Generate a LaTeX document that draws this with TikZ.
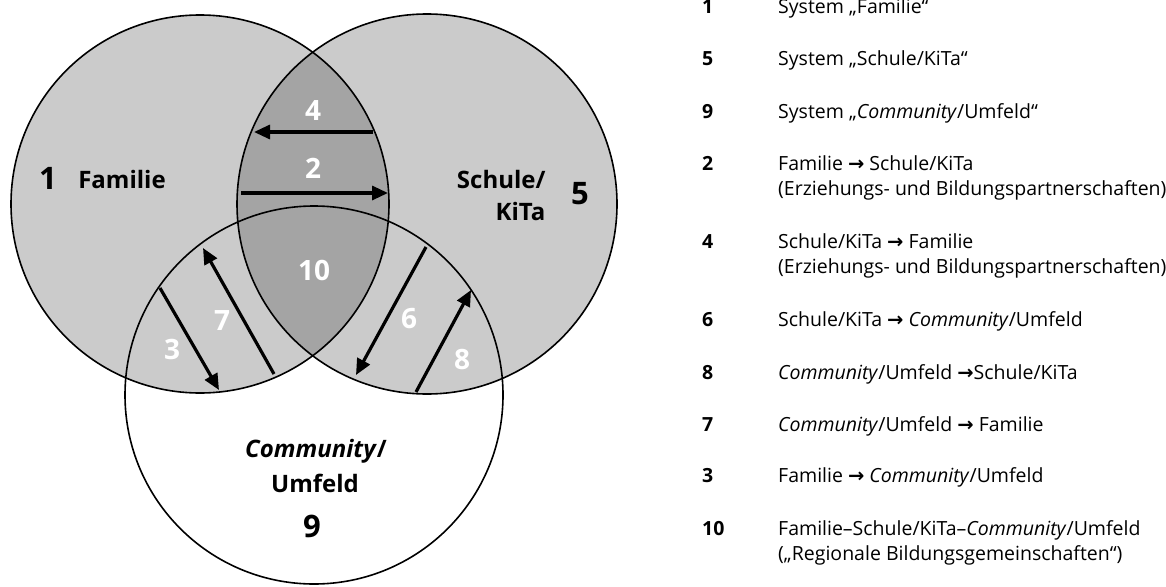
\documentclass[tikz,border=0pt]{standalone}
\usepackage{fontspec}
\setmainfont{Open Sans}
\newfontfamily\arrowfont{DejaVu Sans}
\usetikzlibrary{arrows.meta}
\newcommand\rarr{{\arrowfont\bfseries →}}
\definecolor{setfill}{HTML}{CBCBCB}
\definecolor{lensfill}{HTML}{A4A4A4}
\tikzset{
  ring/.style={draw=black,line width=1.6pt},
  flow/.style={line width=3.2pt,-{Triangle[length=16pt,width=14pt]}},
  setname/.style={font=\bfseries\fontsize{24}{30}\selectfont},
  setnum/.style={font=\bfseries\fontsize{31}{36}\selectfont},
  zonenum/.style={text=white,font=\bfseries\fontsize{28}{34}\selectfont},
  keynum/.style={anchor=base west,inner sep=0pt,font=\bfseries\fontsize{19.5}{25}\selectfont},
  keytext/.style={anchor=base west,inner sep=0pt,font=\fontsize{19.5}{25}\selectfont},
}
\begin{document}
\begin{tikzpicture}[x=1pt,y=-1pt]
\useasboundingbox (0,0) rectangle (1166,586);
\fill[white] (0,0) rectangle (1166,586);

% circle centres
\coordinate (cF) at (200,204);
\coordinate (cS) at (427,204);
\coordinate (cC) at (314,395);

% shaded sets Familie and Schule/KiTa, darker where they overlap
\fill[setfill] (cF) circle[radius=189];
\fill[setfill] (cS) circle[radius=190];
\begin{scope}
  \clip (cF) circle[radius=189];
  \fill[lensfill] (cS) circle[radius=190];
\end{scope}
\draw[ring] (cF) circle[radius=189];
\draw[ring] (cS) circle[radius=190];
\draw[ring] (cC) circle[radius=189];

% set names
\node[setnum] (n1) at (48,178) {1};
\node[setname] (tF) at (122,179) {Familie};
\node[setname,anchor=east] (tS1) at (549,179) {Schule/};
\node[setname,anchor=east] (tS2) at (549,211) {KiTa};
\node[setnum] (n5) at (580,194) {5};
\node[setname] (tC1) at (316,451) {\textit{Community}/};
\node[setname] (tC2) at (315,483) {Umfeld};
\node[setnum] (n9) at (312,526) {9};

% zone numbers
\node[zonenum] (z4) at (313,111) {4};
\node[zonenum] (z2) at (313,168) {2};
\node[zonenum] (z10) at (314,270) {10};
\node[zonenum] (z7) at (222,321) {7};
\node[zonenum] (z3) at (172,349) {3};
\node[zonenum] (z6) at (409,319) {6};
\node[zonenum] (z8) at (462,360) {8};

% arrow end points on the circle borders
\coordinate (a4s) at (373,132);
\coordinate (a4e) at (254,132);
\coordinate (a2s) at (241,193);
\coordinate (a2e) at (388,193);
\coordinate (a3s) at (160,288);
\coordinate (a3e) at (219,390);
\coordinate (a7s) at (274,374);
\coordinate (a7e) at (203,248);
\coordinate (a6s) at (426,247);
\coordinate (a6e) at (356,375);
\coordinate (a8s) at (416,392);
\coordinate (a8e) at (471,290);

\draw[flow] (a4s) -- (a4e);
\draw[flow] (a2s) -- (a2e);
\draw[flow] (a3s) -- (a3e);
\draw[flow] (a7s) -- (a7e);
\draw[flow] (a6s) -- (a6e);
\draw[flow] (a8s) -- (a8e);

% key
\node[keynum] (k1) at (702,14) {1};
\node[keytext] (t1) at (778,14) {System „Familie“};
\node[keynum] (k5) at (702,66) {5};
\node[keytext] (t5) at (778,66) {System „Schule/KiTa“};
\node[keynum] (k9) at (702,118) {9};
\node[keytext] (t9) at (778,118) {System „\textit{Community}/Umfeld“};
\node[keynum] (k2) at (702,170) {2};
\node[keytext] (t2a) at (778,170) {Familie \rarr{} Schule/KiTa};
\node[keytext] (t2b) at (778,195) {(Erziehungs- und Bildungspartnerschaften)};
\node[keynum] (k4) at (702,248) {4};
\node[keytext] (t4a) at (778,248) {Schule/KiTa \rarr{} Familie};
\node[keytext] (t4b) at (778,273) {(Erziehungs- und Bildungspartnerschaften)};
\node[keynum] (k6) at (702,326) {6};
\node[keytext] (t6) at (778,326) {Schule/KiTa \rarr{} \textit{Community}/Umfeld};
\node[keynum] (k8) at (702,379) {8};
\node[keytext] (t8) at (778,379) {\textit{Community}/Umfeld \rarr Schule/KiTa};
\node[keynum] (k7) at (702,431) {7};
\node[keytext] (t7) at (778,431) {\textit{Community}/Umfeld \rarr{} Familie};
\node[keynum] (k3) at (702,482) {3};
\node[keytext] (t3) at (778,482) {Familie \rarr{} \textit{Community}/Umfeld};
\node[keynum] (k10) at (702,535) {10};
\node[keytext] (t10a) at (778,535) {Familie–Schule/KiTa–\textit{Community}/Umfeld};
\node[keytext] (t10b) at (778,560) {(„Regionale Bildungsgemeinschaften“)};
\end{tikzpicture}
\end{document}
